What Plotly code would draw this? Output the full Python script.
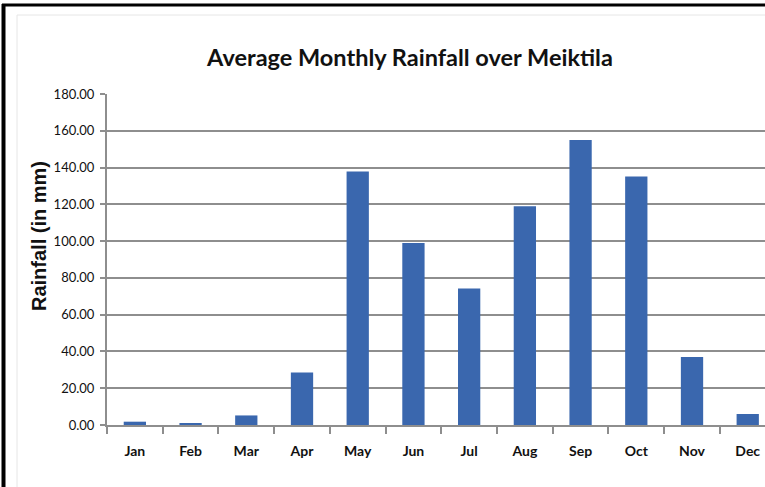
import plotly.graph_objects as go

# Average monthly rainfall at Meiktila (mm)
months = ["Jan", "Feb", "Mar", "Apr", "May", "Jun",
          "Jul", "Aug", "Sep", "Oct", "Nov", "Dec"]
rainfall_mm = [1.8, 1.0, 5.2, 28.6, 137.8, 99.0,
               74.2, 119.0, 155.0, 135.2, 37.0, 6.0]
y_ticks = [0, 20, 40, 60, 80, 100, 120, 140, 160, 180]

W, H = 765, 487
M_L, M_R, M_T, M_B = 107, 0, 94, 62
plot_w = W - M_L - M_R
plot_h = H - M_T - M_B

bar_color = "#3A67AE"
grid_color = "#8E8E8E"
label_font = "Lato, sans-serif"

fig = go.Figure(
    go.Bar(
        x=months,
        y=rainfall_mm,
        marker=dict(color=bar_color, line=dict(width=0)),
        width=0.4,
    )
)


def px_x(px):
    return (px - M_L) / plot_w


def px_y(py):
    return 1 - (py - M_T) / plot_h


# Outer frame (left and top edges) and a faint inner chart-area border
frame = [
    dict(x0=px_x(3.5), x1=px_x(3.5), y0=px_y(4), y1=px_y(H + 5), w=4, c="#000000"),
    dict(x0=px_x(2), x1=px_x(W + 5), y0=px_y(5), y1=px_y(5), w=3, c="#000000"),
    dict(x0=px_x(17), x1=px_x(17), y0=px_y(15), y1=px_y(H + 5), w=1, c="#E6E6E6"),
    dict(x0=px_x(17), x1=px_x(W + 5), y0=px_y(15), y1=px_y(15), w=1, c="#E6E6E6"),
]
shapes = [
    dict(type="line", xref="paper", yref="paper",
         x0=f["x0"], x1=f["x1"], y0=f["y0"], y1=f["y1"],
         line=dict(color=f["c"], width=f["w"]), layer="above")
    for f in frame
]

# Y-axis title placed as a rotated annotation
y_title = dict(
    text="Rainfall (in mm)",
    xref="paper", yref="paper",
    x=px_x(39), y=px_y(236),
    xanchor="center", yanchor="middle",
    textangle=-90,
    showarrow=False,
    font=dict(family="Liberation Sans, Arial, sans-serif", size=20,
              color="#111111", weight="bold"),
)

fig.update_layout(
    width=W,
    height=H,
    margin=dict(l=M_L, r=M_R, t=M_T, b=M_B, pad=0),
    paper_bgcolor="white",
    plot_bgcolor="white",
    showlegend=False,
    shapes=shapes,
    annotations=[y_title],
    title=dict(
        text="Average Monthly Rainfall over Meiktila",
        x=410 / W, xref="container", xanchor="center",
        y=1 - 58 / H, yref="container", yanchor="middle",
        font=dict(family=label_font, size=23.5, color="#111111", weight="bold"),
    ),
    xaxis=dict(
        type="category",
        range=[-0.5, 11.31],
        showgrid=False,
        showline=True,
        linecolor=grid_color,
        linewidth=2,
        ticks="outside",
        tickson="boundaries",
        ticklen=7,
        tickwidth=2,
        tickcolor=grid_color,
        ticklabelstandoff=12,
        tickfont=dict(family=label_font, size=14, color="#111111", weight="bold"),
    ),
    yaxis=dict(
        range=[0, 180],
        tickvals=y_ticks,
        tickformat=".2f",
        showgrid=True,
        gridcolor=grid_color,
        gridwidth=2,
        zeroline=False,
        showline=True,
        linecolor=grid_color,
        linewidth=2,
        ticks="outside",
        ticklen=5,
        tickwidth=2,
        tickcolor=grid_color,
        ticklabelstandoff=3,
        tickfont=dict(family=label_font, size=13, color="#111111"),
    ),
)

fig.write_html("out.html")
